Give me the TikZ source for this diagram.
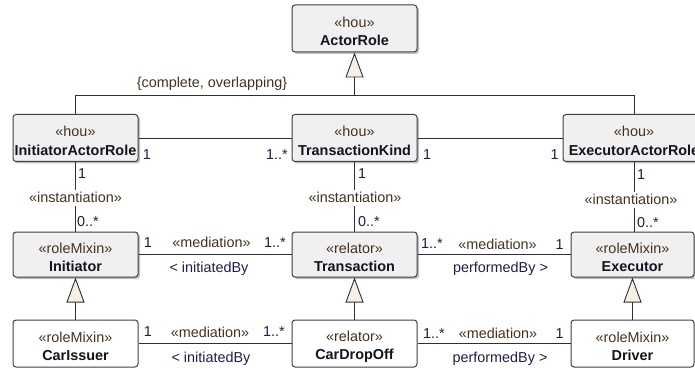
\documentclass[tikz,border=0pt]{standalone}
\usepackage{fontspec}
\setmainfont{Liberation Sans}
\usetikzlibrary{arrows.meta,shadows}
\definecolor{boxfill}{HTML}{F0F0F0}
\definecolor{boxline}{HTML}{404040}
\definecolor{stereo}{HTML}{46321C}
\definecolor{nametext}{HTML}{141420}
\definecolor{multtext}{HTML}{1E1E48}
\definecolor{cream}{HTML}{F7EFE3}
\definecolor{linecol}{HTML}{303030}
\newcommand{\umlbox}[2]{\rule{0pt}{16.5pt}{\color{stereo}«#1»}\\{\bfseries\color{nametext}#2}}
\tikzset{
  classbox/.style={draw=boxline, line width=1pt, rounded corners=3pt, inner sep=0pt, align=center,
    font=\fontsize{14.4}{18.5}\selectfont, minimum width=125pt, minimum height=47pt},
  graybox/.style={classbox, fill=boxfill, drop shadow={shadow xshift=2pt, shadow yshift=-2pt, opacity=0.25, fill=black}},
  whitebox/.style={classbox, fill=white},
  lbl/.style={inner sep=0pt, font=\fontsize{14.4}{17}\selectfont, text height=10pt, text depth=0pt},
  mult/.style={lbl, text=multtext},
  ster/.style={lbl, text=stereo},
  navy/.style={lbl, text=multtext},
  conn/.style={draw=linecol, line width=0.9pt},
  gen/.style={conn, -{Triangle[length=25pt,width=18pt,fill=cream]}},
}
\begin{document}
\begin{tikzpicture}[x=1pt,y=-1pt]
\useasboundingbox (0,0) rectangle (695,371);
\clip (0,0) rectangle (695,371);
% classes
\node[graybox] (AR) at (354.5,28.5) {\umlbox{hou}{ActorRole}};
\node[graybox] (IAR) at (75.5,138) {\umlbox{hou}{InitiatorActorRole}};
\node[graybox] (TK) at (354.5,138) {\umlbox{hou}{TransactionKind}};
\node[graybox, minimum width=142pt] (EAR) at (634,138) {\umlbox{hou}{ExecutorActorRole}};
\node[graybox, minimum height=45pt] (Ini) at (75.5,254.5) {\umlbox{roleMixin}{Initiator}};
\node[graybox, minimum height=45pt] (Tr) at (354.5,254.5) {\umlbox{relator}{Transaction}};
\node[graybox, minimum height=45pt, minimum width=123pt] (Ex) at (632.5,254.5) {\umlbox{roleMixin}{Executor}};
\node[whitebox] (CI) at (75.5,343.5) {\umlbox{roleMixin}{CarIssuer}};
\node[whitebox] (CD) at (354.5,343.5) {\umlbox{relator}{CarDropOff}};
\node[whitebox, minimum width=123pt] (Dr) at (632.5,343.5) {\umlbox{roleMixin}{Driver}};
% generalization set
\coordinate (gm) at (354.5,95);
\draw[conn] (IAR.north) -- (IAR.north |- gm) -- (EAR.north |- gm) -- (EAR.north);
\draw[gen] (gm) -- (AR.south);
\node[ster] (gs) at (212,83) {\{complete, overlapping\}};
% associations row 2
\draw[conn] (IAR.east) -- (TK.west);
\draw[conn] (TK.east) -- (EAR.west);
\node[mult] (m1) at (147,155) {1};
\node[mult] (m2) at (277,155) {1..*};
\node[mult] (m3) at (427,155) {1};
\node[mult] (m4) at (554.5,155) {1};
% instantiations
\draw[conn] (IAR.south) -- (Ini.north);
\draw[conn] (TK.south) -- (Tr.north);
\draw[conn] (EAR.south) -- (EAR.south |- Ex.north);
\node[mult, anchor=west] (i1a) at (78,174) {1};
\node[ster, fill=white, inner ysep=3pt] (i1b) at (75.5,198) {«instantiation»};
\node[mult, anchor=west, fill=white, inner xsep=1pt] (i1c) at (76,221) {0..*};
\node[mult, anchor=west] (i2a) at (358,174) {1};
\node[ster, fill=white, inner ysep=3pt] (i2b) at (355,198) {«instantiation»};
\node[mult, anchor=west] (i2c) at (358,221) {0..*};
\node[mult, anchor=west] (i3a) at (637,175) {1};
\node[ster, fill=white, inner ysep=3pt] (i3b) at (631,200) {«instantiation»};
\node[mult, anchor=west] (i3c) at (637,222) {0..*};
% mediations row 3
\draw[conn] (Ini.east) -- (Tr.west);
\draw[conn] (Tr.east) -- (Ex.west);
\node[mult] (a1) at (148,242) {1};
\node[ster] (a2) at (211.5,242) {«mediation»};
\node[mult] (a3) at (275,242) {1..*};
\node[navy] (a4) at (209,267.5) {< initiatedBy};
\node[mult] (b1) at (432,243) {1..*};
\node[ster] (b2) at (497.5,244) {«mediation»};
\node[mult] (b3) at (559.5,244) {1};
\node[navy] (b4) at (500.5,267.5) {performedBy >};
% generalizations
\draw[gen] (CI.north) -- (Ini.south);
\draw[gen] (CD.north) -- (Tr.south);
\draw[gen] (Dr.north) -- (Ex.south);
% mediations row 4
\draw[conn] (CI.east) -- (CD.west);
\draw[conn] (CD.east) -- (Dr.west);
\node[mult] (c1) at (148,331) {1};
\node[ster] (c2) at (210,332) {«mediation»};
\node[mult] (c3) at (274,331) {1..*};
\node[navy] (c4) at (211,357) {< initiatedBy};
\node[mult] (d1) at (434,333) {1..*};
\node[ster] (d2) at (498,333) {«mediation»};
\node[mult] (d3) at (559.5,333) {1};
\node[navy] (d4) at (500,357) {performedBy >};
\end{tikzpicture}
\end{document}
